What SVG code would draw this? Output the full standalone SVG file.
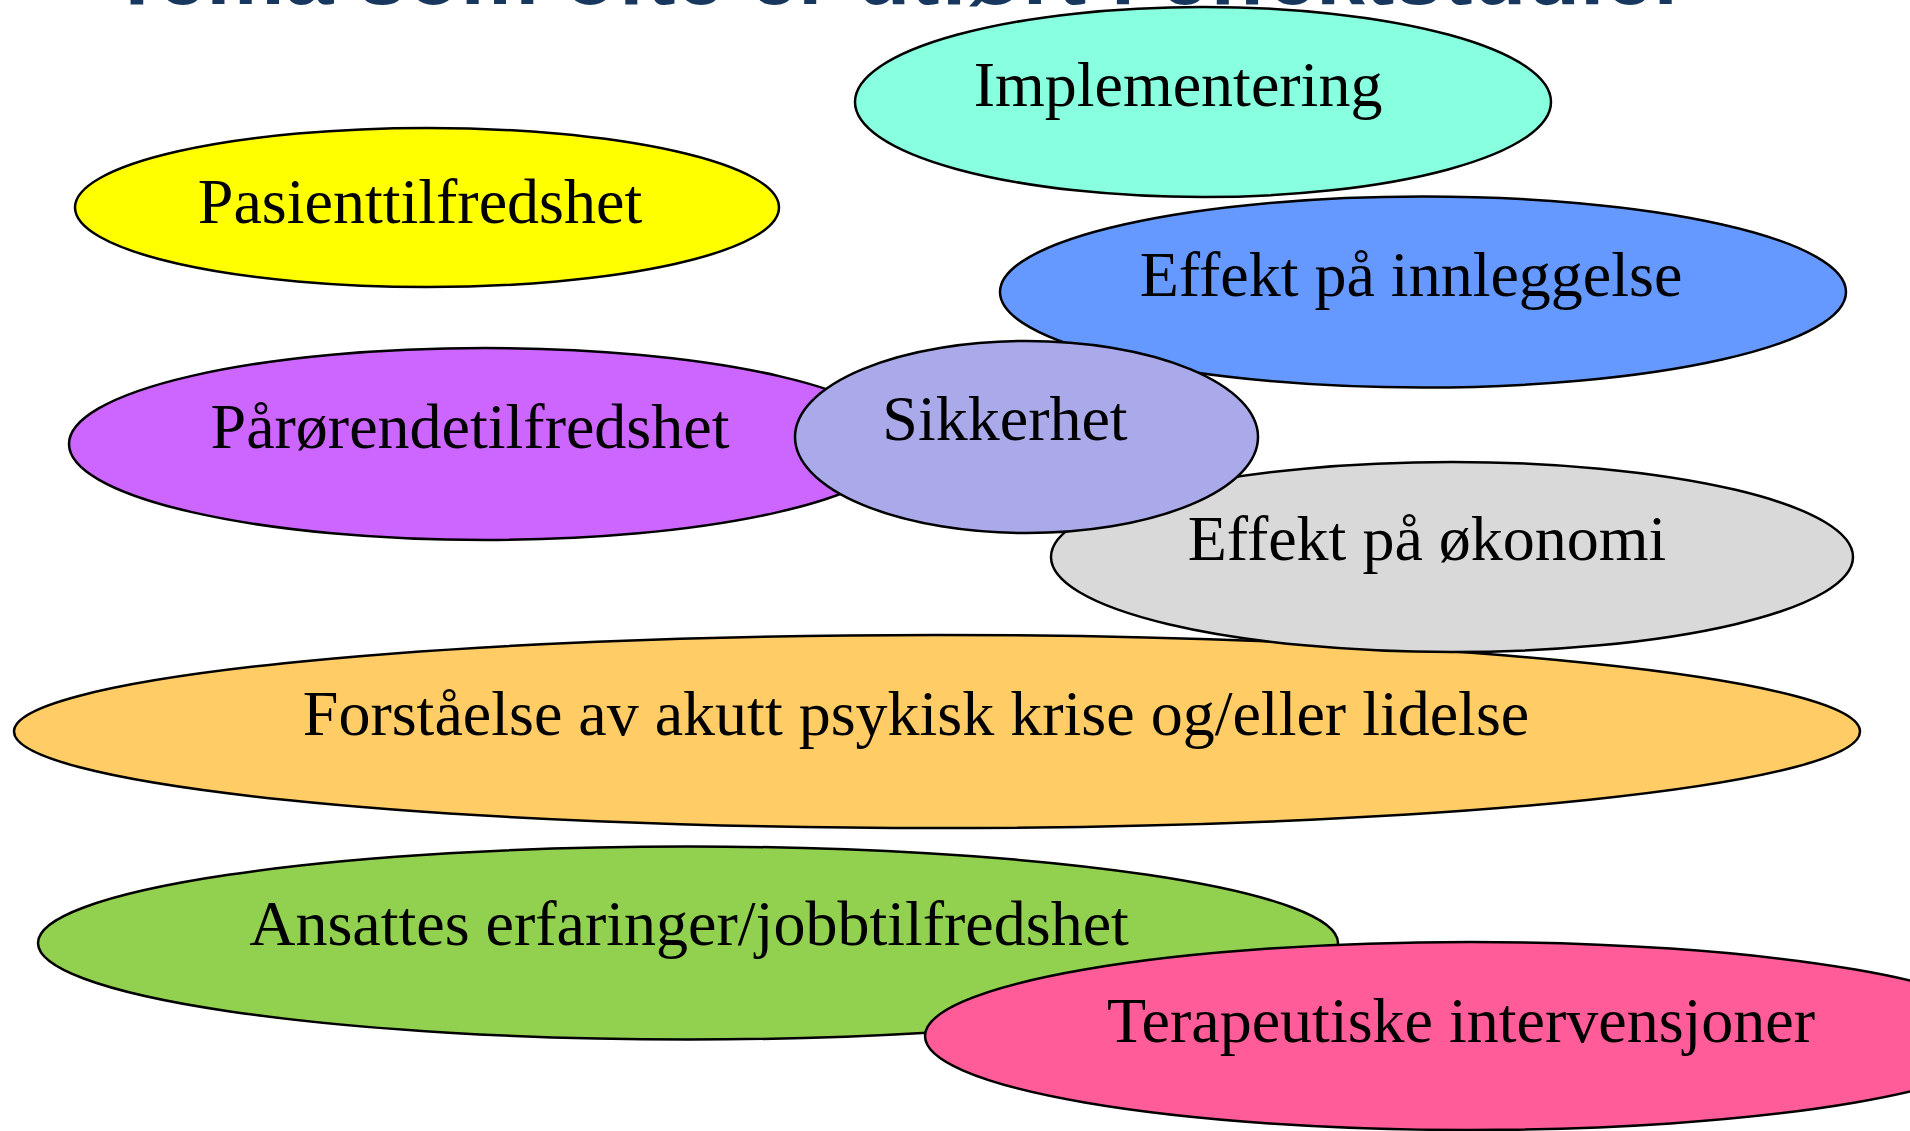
<svg xmlns="http://www.w3.org/2000/svg" width="1910" height="1131" viewBox="0 0 1910 1131">
<style>
.n ellipse{stroke:#000;stroke-width:2.5}
.n text{font-family:"Liberation Serif","Times New Roman",serif;font-size:64px;fill:#000;text-anchor:middle}
.title{font-family:"Liberation Sans",Arial,sans-serif;font-weight:bold;font-size:88px;fill:#17375E}
</style>
<rect width="1910" height="1131" fill="#fff"/>
<text class="title" x="110" y="4">Tema som ofte er utført i effektstudier</text>
<g id="connectors"/>
<g id="n-pasient" class="n"><ellipse cx="427" cy="207.5" rx="352" ry="79.5" fill="#FFFF00"/><text x="420" y="223">Pasienttilfredshet</text></g>
<g id="n-implementering" class="n"><ellipse cx="1203" cy="102" rx="348" ry="95" fill="#88FFDF"/><text x="1178" y="106">Implementering</text></g>
<g id="n-innleggelse" class="n"><ellipse cx="1423" cy="292" rx="423" ry="95.5" fill="#6699FF"/><text x="1411" y="296">Effekt på innleggelse</text></g>
<g id="n-parorende" class="n"><ellipse cx="485" cy="444" rx="416" ry="96" fill="#CC66FF"/><text x="470" y="448">Pårørendetilfredshet</text></g>
<g id="n-forstaelse" class="n"><ellipse cx="937" cy="731.5" rx="923" ry="96.5" fill="#FFCC66"/><text x="916" y="735">Forståelse av akutt psykisk krise og/eller lidelse</text></g>
<g id="n-okonomi" class="n"><ellipse cx="1452" cy="557" rx="401" ry="95" fill="#D9D9D9"/><text x="1427" y="560">Effekt på økonomi</text></g>
<g id="n-sikkerhet" class="n"><ellipse cx="1026.5" cy="437" rx="231.5" ry="96" fill="#AAAAEA"/><text x="1005" y="440">Sikkerhet</text></g>
<g id="n-ansattes" class="n"><ellipse cx="688" cy="943" rx="650" ry="96.5" fill="#92D050"/><text x="689" y="945">Ansattes erfaringer/jobbtilfredshet</text></g>
<g id="n-terapeutiske" class="n"><ellipse cx="1470" cy="1036" rx="545" ry="94" fill="#FF5C99"/><text x="1461" y="1042">Terapeutiske intervensjoner</text></g>
</svg>
